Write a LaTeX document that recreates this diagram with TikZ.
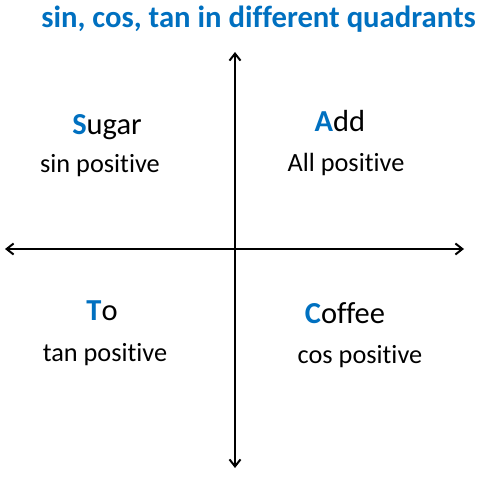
\documentclass[tikz,border=0pt]{standalone}
\usepackage{fontspec}
\setmainfont{Carlito}[Ligatures={NoCommon}]
\usetikzlibrary{arrows.meta}
\definecolor{qblue}{RGB}{0,112,192}
\newcommand{\quadword}[2]{\textbf{\textcolor{qblue}{#1}}#2}
\tikzset{
  word/.style={anchor=base, font=\fontsize{30.5bp}{32bp}\selectfont},
  sign/.style={anchor=base, font=\fontsize{26.3bp}{28bp}\selectfont},
  axis/.style={line width=2bp, {Straight Barb[length=7bp,width=11bp]}-{Straight Barb[length=7bp,width=11bp]}}
}

\begin{document}
\begin{tikzpicture}[x=1bp,y=-1bp]
\useasboundingbox (0,0) rectangle (495,477);
\node[anchor=base, text=qblue, font=\bfseries\fontsize{30.7bp}{32bp}\selectfont] (title) at (258.5,28) {sin, cos, tan in different quadrants};
% axes
\coordinate (west) at (5,249);
\coordinate (east) at (464,249);
\coordinate (north) at (235,52);
\coordinate (south) at (235,468);
\draw[axis] (west) -- (east);
\draw[axis] (south) -- (north);
% quadrants
\node[word] (sugar) at (107,135) {\quadword{S}{ugar}};
\node[sign] (sinpos) at (100,173) {sin positive};
\node[word] (add) at (340,132) {\quadword{A}{dd}};
\node[sign] (allpos) at (346,172) {All positive};
\node[word] (to) at (102,320) {\quadword{T}{o}};
\node[sign] (tanpos) at (105,361) {tan positive};
\node[word] (coffee) at (345,323) {\quadword{C}{offee}};
\node[sign] (cospos) at (360,363) {cos positive};
\end{tikzpicture}
\end{document}
